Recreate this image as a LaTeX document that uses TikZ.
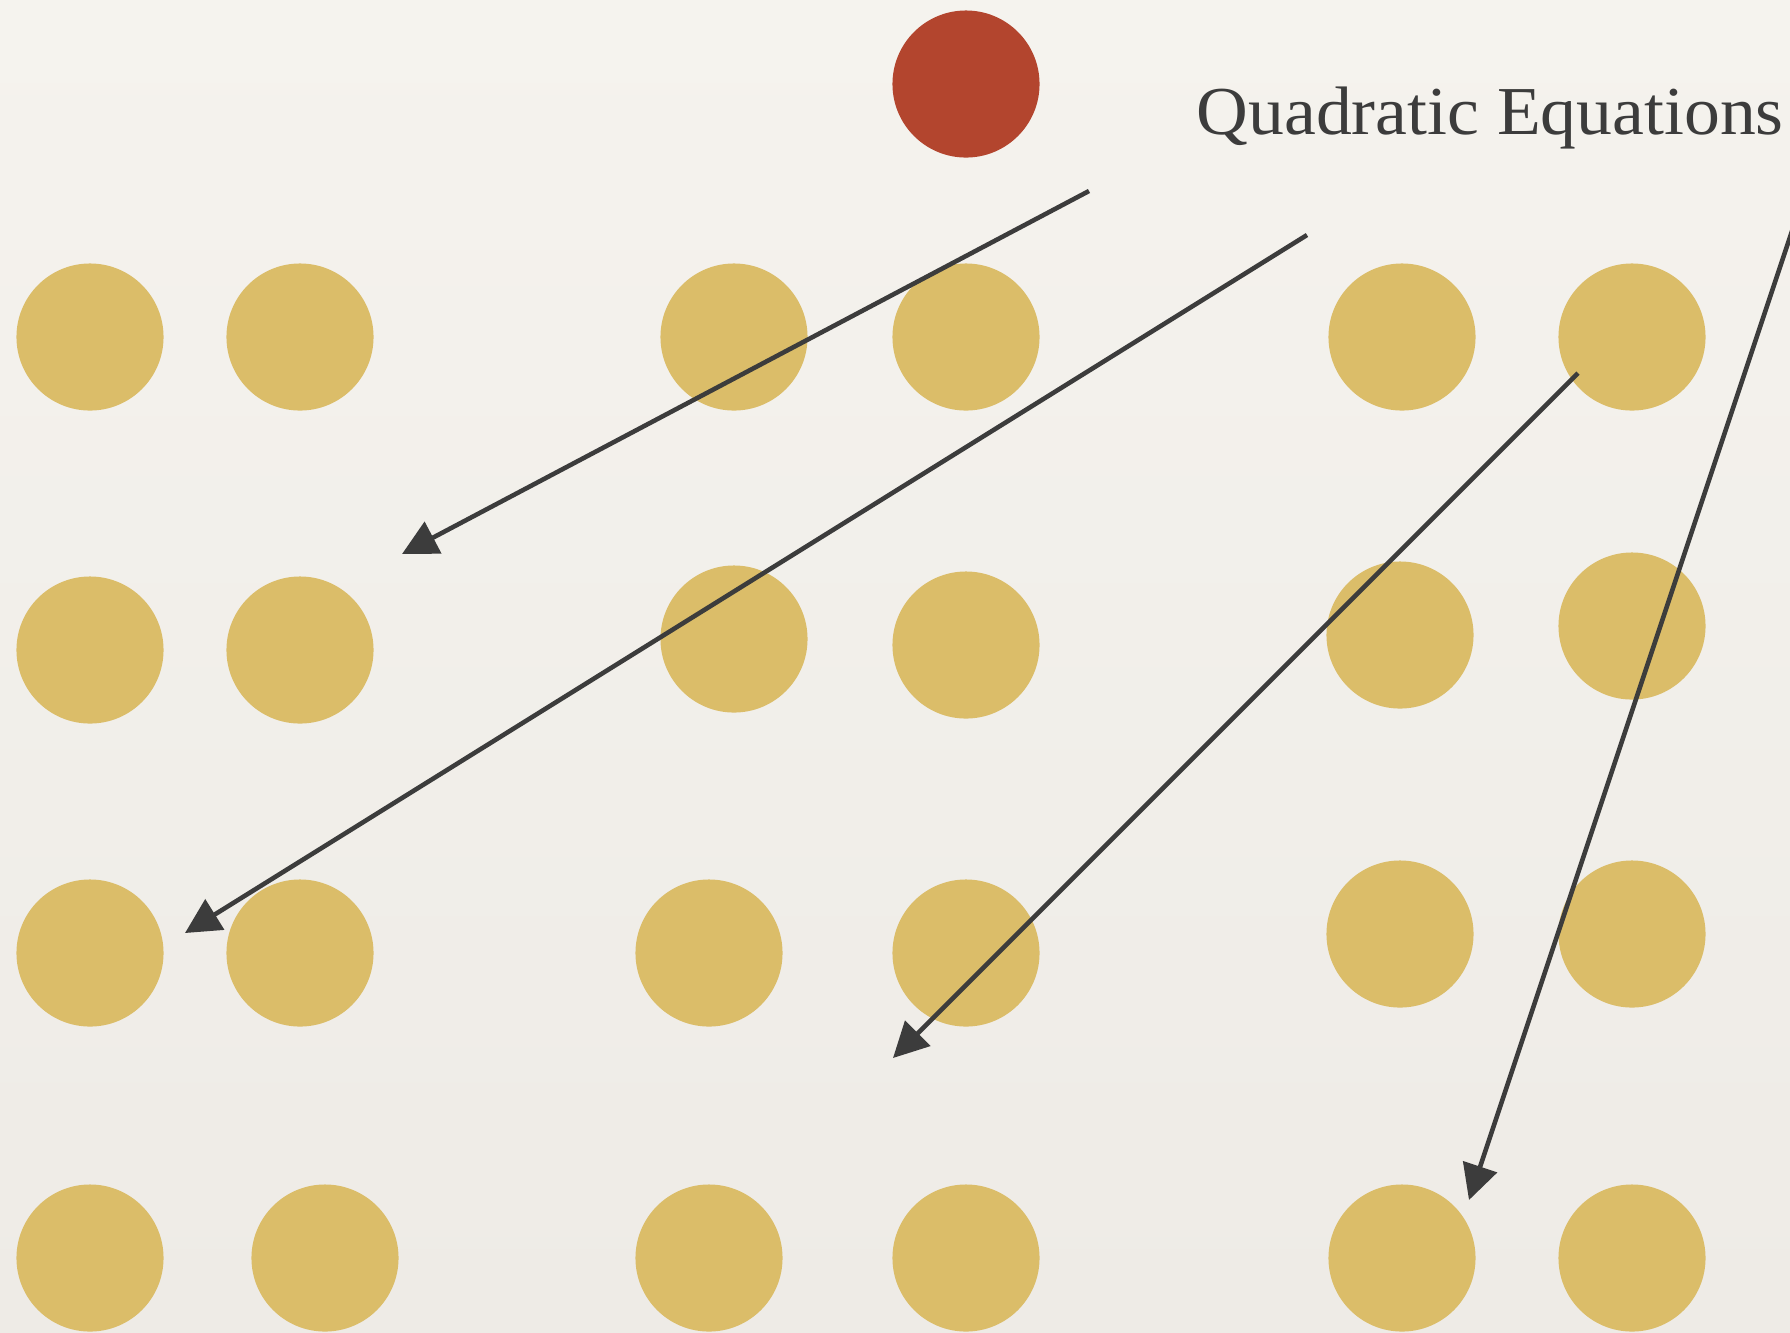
\documentclass[tikz,border=0pt]{standalone}
\usepackage{fontspec}
\setmainfont{Liberation Serif}
\usepackage{xcolor}
\usetikzlibrary{arrows.meta,positioning}

\definecolor{paperTop}{HTML}{F5F3EE}
\definecolor{paperMid}{HTML}{E7E4DF}
\definecolor{paperBot}{HTML}{EEEBE6}
\definecolor{dotYellow}{HTML}{DBBD69}
\definecolor{dotRed}{HTML}{B3452E}
\definecolor{inkGray}{HTML}{3C3C3C}

\begin{document}
\begin{tikzpicture}[
    x=0.01cm, y=-0.01cm,
    dot/.style={circle, fill=dotYellow, minimum size=1.47cm, inner sep=0pt},
    hot/.style={dot, fill=dotRed},
    arrow/.style={-{Triangle[length=10pt,width=10pt]}, line width=1.3pt, draw=inkGray}
]

% paper background
\fill[top color=paperTop, middle color=paperMid, bottom color=paperBot] (0,0) rectangle (1790,1332);
\useasboundingbox (0,0) rectangle (1790,1332);

% the chosen one
\node[hot] (pick) at (966,84) {};
\node[anchor=base west, inner sep=0pt, text=inkGray, font=\fontsize{19.5}{24}\selectfont\addfontfeatures{FakeStretch=1.045}] (title) at (1196,134) {Quadratic Equations};

% grid of dots, row by row
\node[dot] (a1) at (90,337) {};
\node[dot] (a2) at (300,337) {};
\node[dot] (a3) at (734,337) {};
\node[dot] (a4) at (966,337) {};
\node[dot] (a5) at (1402,337) {};
\node[dot] (a6) at (1632,337) {};

\node[dot] (b1) at (90,650) {};
\node[dot] (b2) at (300,650) {};
\node[dot] (b3) at (734,639) {};
\node[dot] (b4) at (966,645) {};
\node[dot] (b5) at (1400,635) {};
\node[dot] (b6) at (1632,626) {};

\node[dot] (c1) at (90,953) {};
\node[dot] (c2) at (300,953) {};
\node[dot] (c3) at (709,953) {};
\node[dot] (c4) at (966,953) {};
\node[dot] (c5) at (1400,934) {};
\node[dot] (c6) at (1632,934) {};

\node[dot] (d1) at (90,1258) {};
\node[dot] (d2) at (325,1258) {};
\node[dot] (d3) at (709,1258) {};
\node[dot] (d4) at (966,1258) {};
\node[dot] (d5) at (1402,1258) {};
\node[dot] (d6) at (1632,1258) {};

% arrow ends
\coordinate (s1) at (1089,191);
\coordinate (e1) at (402,554);
\coordinate (s2) at (1307,235);
\coordinate (e2) at (185,933);
\coordinate (s3) at (1578,373);
\coordinate (e3) at (893,1058);
\coordinate (s4) at (1795,222);
\coordinate (e4) at (1469,1200);

% arrows
\draw[arrow] (s1) -- (e1);
\draw[arrow] (s2) -- (e2);
\draw[arrow] (s3) -- (e3);
\draw[arrow] (s4) -- (e4);

\end{tikzpicture}
\end{document}
